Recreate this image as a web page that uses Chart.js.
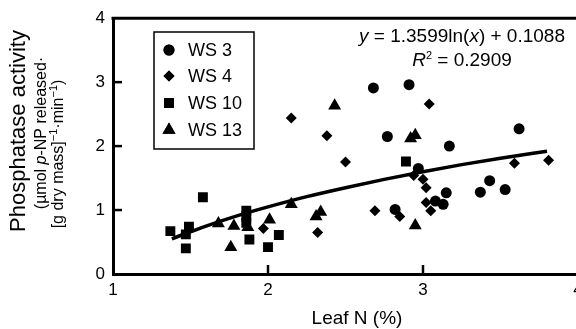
<!DOCTYPE html>
<html>
<head>
<meta charset="utf-8">
<script src="https://cdn.jsdelivr.net/npm/chart.js@4"></script>
<style>
  html, body { margin: 0; padding: 0; background: #fff; overflow: hidden; width: 576px; height: 329px; }
  canvas { display: block; }
</style>
</head>
<body>
<canvas id="myChart" width="590" height="329"></canvas>
<script>
// data
const ws3X = [2.68, 2.91, 2.77, 3.17, 3.62, 2.97, 3.15, 3.13, 3.08, 2.82, 3.37, 3.43, 3.53];
const ws3Y = [2.91, 2.96, 2.15, 2.00, 2.27, 1.65, 1.27, 1.09, 1.14, 1.01, 1.28, 1.46, 1.32];

const ws4X = [2.15, 2.38, 3.04, 2.50, 2.94, 3.00, 3.02, 2.69, 2.85, 3.02, 3.05, 3.59, 3.81, 1.97, 2.32];
const ws4Y = [2.44, 2.16, 2.66, 1.75, 1.54, 1.48, 1.35, 0.99, 0.90, 1.12, 0.99, 1.73, 1.78, 0.71, 0.65];

const ws10X = [1.37, 1.47, 1.49, 1.47, 1.58, 1.86, 1.86, 1.86, 1.88, 2.00, 2.07, 2.89];
const ws10Y = [0.67, 0.62, 0.74, 0.40, 1.20, 0.99, 0.90, 0.80, 0.54, 0.42, 0.61, 1.76];

const ws13X = [2.43, 2.92, 2.95, 2.95, 1.68, 1.78, 1.76, 1.87, 2.01, 2.15, 2.31, 2.34];
const ws13Y = [2.63, 2.12, 2.17, 0.76, 0.79, 0.75, 0.42, 0.73, 0.85, 1.09, 0.90, 0.97];

// trend line y = 1.3599ln(x) + 0.1088
const fitX = [1.38, 1.6, 1.8, 2.0, 2.25, 2.5, 2.75, 3.0, 3.25, 3.5, 3.8];
const fitY = [0.55, 0.75, 0.91, 1.05, 1.21, 1.35, 1.48, 1.60, 1.71, 1.81, 1.92];

const xTicks = [1, 2, 3, 4];
const yTicks = [0, 1, 2, 3, 4];

const FONT = "'Liberation Sans', Arial, Helvetica, sans-serif";

const pts = (xs, ys) => xs.map((x, i) => ({ x: x, y: ys[i] }));

function scatterSet(label, xs, ys, style, r) {
  return {
    type: 'scatter',
    label: label,
    data: pts(xs, ys),
    pointStyle: style,
    pointRadius: r,
    pointHoverRadius: r,
    pointBackgroundColor: '#000',
    pointBorderColor: '#000',
    pointBorderWidth: 0
  };
}

// draw a row of text runs centred on cx
function drawRuns(ctx, runs, cx, y) {
  let total = 0;
  runs.forEach(r => { ctx.font = r.font; r.w = ctx.measureText(r.t).width; total += r.w; });
  let x = cx - total / 2;
  runs.forEach(r => {
    ctx.font = r.font;
    ctx.fillText(r.t, x, y + (r.dy || 0));
    x += r.w;
  });
}

const decorations = {
  id: 'decorations',
  afterDraw(chart) {
    const ctx = chart.ctx;
    const xs = chart.scales.x, ys = chart.scales.y;
    const area = chart.chartArea;
    ctx.save();
    ctx.fillStyle = '#000';
    ctx.strokeStyle = '#000';

    // top frame line
    ctx.lineWidth = 3;
    ctx.beginPath();
    ctx.moveTo(area.left - 1.5, area.top);
    ctx.lineTo(area.right + 2, area.top);
    ctx.stroke();

    // inward ticks
    ctx.lineWidth = 2.5;
    [1, 2, 3].forEach(v => {
      const py = ys.getPixelForValue(v);
      ctx.beginPath(); ctx.moveTo(area.left, py); ctx.lineTo(area.left + 9, py); ctx.stroke();
    });
    [2, 3].forEach(v => {
      const px = xs.getPixelForValue(v);
      ctx.beginPath(); ctx.moveTo(px, area.bottom); ctx.lineTo(px, area.bottom - 9); ctx.stroke();
    });

    // x axis title
    ctx.textBaseline = 'alphabetic';
    ctx.textAlign = 'left';
    drawRuns(ctx, [{ t: 'Leaf N (%)', font: '19px ' + FONT }], 357, 324);

    // y axis title (rotated)
    ctx.save();
    ctx.translate(25, 131);
    ctx.rotate(-Math.PI / 2);
    drawRuns(ctx, [{ t: 'Phosphatase activity', font: '22px ' + FONT }], 0, 0);
    ctx.restore();

    ctx.save();
    ctx.translate(46, 133);
    ctx.rotate(-Math.PI / 2);
    drawRuns(ctx, [
      { t: '(\u00b5mol ', font: '16px ' + FONT },
      { t: 'p', font: 'italic 16px ' + FONT },
      { t: '-NP released\u00b7', font: '16px ' + FONT }
    ], 0, 0);
    ctx.restore();

    ctx.save();
    ctx.translate(63, 154);
    ctx.rotate(-Math.PI / 2);
    drawRuns(ctx, [
      { t: '[g dry mass]', font: '16px ' + FONT },
      { t: '\u22121', font: '11px ' + FONT, dy: -6 },
      { t: '\u00b7min', font: '16px ' + FONT },
      { t: '\u22121', font: '11px ' + FONT, dy: -6 },
      { t: ')', font: '16px ' + FONT }
    ], 0, 0);
    ctx.restore();

    // equation
    drawRuns(ctx, [
      { t: 'y', font: 'italic 19px ' + FONT },
      { t: ' = 1.3599ln(', font: '19px ' + FONT },
      { t: 'x', font: 'italic 19px ' + FONT },
      { t: ') + 0.1088', font: '19px ' + FONT }
    ], 462, 42);
    drawRuns(ctx, [
      { t: 'R', font: 'italic 19px ' + FONT },
      { t: '2', font: '11px ' + FONT, dy: -7 },
      { t: ' = 0.2909', font: '19px ' + FONT }
    ], 462, 66);

    // legend box
    ctx.lineWidth = 1.5;
    ctx.strokeRect(154, 32, 100, 117);
    const rowY = [50, 76, 103, 130];
    chart.data.datasets.filter(d => d.type === 'scatter').forEach((d, i) => {
      Chart.helpers.drawPoint(ctx, { pointStyle: d.pointStyle, radius: d.pointRadius, borderWidth: 0 }, 169, rowY[i]);
      ctx.fill();
      ctx.font = '18px ' + FONT;
      ctx.textBaseline = 'middle';
      ctx.fillText(d.label, 188, rowY[i] + 1);
    });
    ctx.restore();
  }
};

const data = {
  datasets: [
    scatterSet('WS 3', ws3X, ws3Y, 'circle', 5.5),
    scatterSet('WS 4', ws4X, ws4Y, 'rectRot', 5.5),
    scatterSet('WS 10', ws10X, ws10Y, 'rect', 7),
    scatterSet('WS 13', ws13X, ws13Y, 'triangle', 7.5),
    {
      type: 'line',
      label: 'fit',
      data: pts(fitX, fitY),
      borderColor: '#000',
      borderWidth: 3.5,
      pointRadius: 0,
      fill: false,
      cubicInterpolationMode: 'monotone'
    }
  ]
};

const config = {
  type: 'scatter',
  data,
  options: {
    responsive: false,
    animation: false,
    layout: { padding: { top: 17, right: 12, left: 0, bottom: 0 } },
    plugins: {
      legend: { display: false },
      tooltip: { enabled: false }
    },
    scales: {
      x: {
        type: 'linear',
        min: 1,
        max: 4,
        afterBuildTicks: s => { s.ticks = xTicks.map(v => ({ value: v })); },
        afterFit: s => { s.height = 55; },
        grid: { display: false, drawTicks: false },
        border: { display: true, width: 3, color: '#000' },
        ticks: { color: '#000', padding: 6, font: { family: FONT, size: 17 } }
      },
      y: {
        type: 'linear',
        min: 0,
        max: 4,
        afterBuildTicks: s => { s.ticks = yTicks.map(v => ({ value: v })); },
        afterFit: s => { s.width = 113; },
        grid: { display: false, drawTicks: false },
        border: { display: true, width: 3, color: '#000' },
        ticks: { color: '#000', padding: 8, font: { family: FONT, size: 17 } }
      }
    }
  },
  plugins: [decorations]
};

const myChart = new Chart(document.getElementById('myChart'), config);
</script>
</body>
</html>
